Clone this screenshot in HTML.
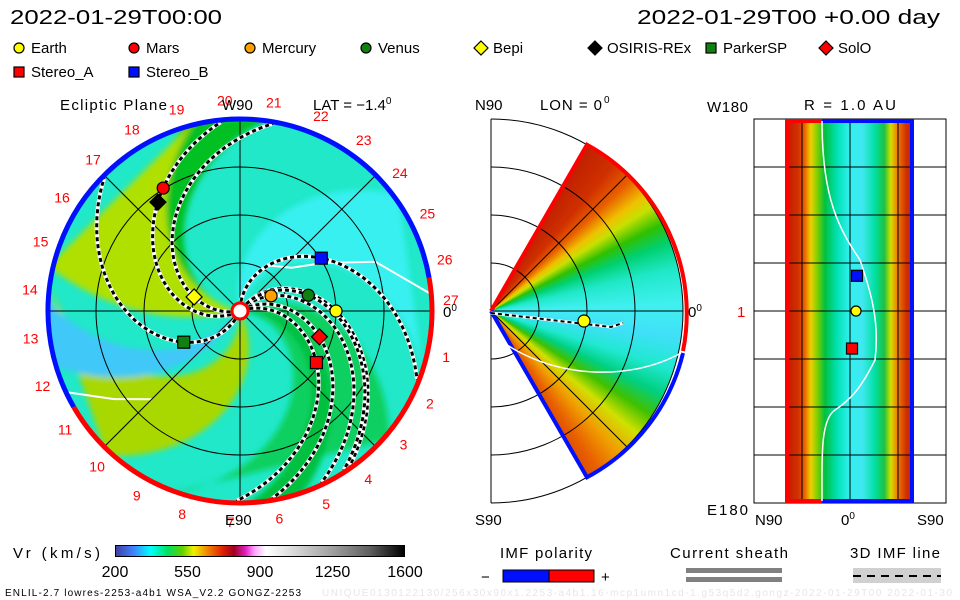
<!DOCTYPE html>
<html><head><meta charset="utf-8">
<style>
html,body{margin:0;padding:0;background:#fff;}
#root{position:relative;width:960px;height:600px;overflow:hidden;background:#fff;font-family:"Liberation Sans",sans-serif;}
.abs{position:absolute;}
#wedge{left:299px;top:119px;width:384px;height:384px;
 background:conic-gradient(from 0deg at 50% 50%,#fff 0deg,#fff 29deg,#c02000 30deg,#d03000 40deg,#e86000 47deg,#f0c000 53deg,#c8e000 57deg,#30c000 63deg,#00d070 69deg,#20e8c8 77deg,#40f0f0 88deg,#40e0f8 98deg,#20e8d0 108deg,#00d080 116deg,#40c000 123deg,#d0e000 130deg,#f0a000 138deg,#e86000 146deg,#e05000 150deg,#fff 151deg);
 clip-path:path('M192 192 L288 25.7 A192 192 0 0 1 288 358.3 Z');}
#strip{left:785px;top:119px;width:129px;height:384px;
 background:linear-gradient(to right,#c01800 0%,#d03000 10%,#e86000 15%,#f0d000 20%,#80d000 25%,#00c040 31%,#00e0b0 40%,#30f0f0 50%,#40e8f0 60%,#00e0a0 70%,#20c040 77%,#d0e000 82%,#f08000 87%,#d03000 94%,#c02000 100%);}
#cbar{left:115px;top:545px;width:290px;height:12px;border:1px solid #000;box-sizing:border-box;
 background:linear-gradient(to right,#4040a0 0%,#4080ff 6%,#00ffff 12%,#00e060 18%,#60d000 23%,#f0f000 27%,#f08000 32%,#e02000 37%,#a00020 41%,#e020c0 45%,#ffa0ff 48%,#ffffff 52%,#e0e0e0 60%,#a0a0a0 75%,#606060 88%,#000 100%);}
</style></head><body>
<div id="root">
<div id="wedge" class="abs"></div>
<div id="strip" class="abs"></div>
<div id="cbar" class="abs"></div>
<svg id="svg" class="abs" style="left:0;top:0" width="960" height="600" xmlns="http://www.w3.org/2000/svg" font-family="Liberation Sans, sans-serif">
<defs>
<clipPath id="disk"><circle cx="240" cy="311" r="192"/></clipPath>
<filter id="blur" x="-10%" y="-10%" width="120%" height="120%"><feGaussianBlur stdDeviation="3"/></filter>
</defs>
<g id="eclip">
 <g clip-path="url(#disk)"><circle cx="240" cy="311" r="192" fill="#20e8c8"/><g id="bands" filter="url(#blur)"></g><g id="sheath"></g></g>
 <g id="grid" stroke="#000" stroke-width="1" fill="none"></g>
 <g id="spirals"></g>
 <g id="border"></g>
 <g id="objs"></g>
 <g id="lonlabels" fill="#f00" font-size="14"></g>
</g>
<g id="mer" stroke="#000" fill="none"></g>
<g id="rmap"></g>
<g font-size="20" fill="#000">
 <text x="10" y="24" textLength="212" lengthAdjust="spacingAndGlyphs">2022-01-29T00:00</text>
 <text x="637" y="24" textLength="303" lengthAdjust="spacingAndGlyphs">2022-01-29T00 +0.00 day</text>
</g>
<g id="legend" font-size="15"></g>
<g font-size="15">
 <text x="60" y="110" textLength="107">Ecliptic Plane</text>
 <text x="222" y="110">W90</text>
 <text x="313" y="110">LAT = −1.4<tspan font-size="10" dy="-6">0</tspan></text>
 <text x="225" y="525">E90</text>
 <text x="443" y="317">0<tspan font-size="10" dy="-6">0</tspan></text>
 <text x="475" y="110">N90</text>
 <text x="540" y="110" textLength="62">LON = 0</text><text x="604" y="103" font-size="10">0</text>
 <text x="475" y="525">S90</text>
 <text x="688" y="317">0<tspan font-size="10" dy="-6">0</tspan></text>
 <text x="804" y="110" textLength="92">R = 1.0 AU</text>
 <text x="707" y="112" textLength="41">W180</text>
 <text x="707" y="515" textLength="41">E180</text>
 <text x="755" y="525">N90</text>
 <text x="841" y="525">0<tspan font-size="10" dy="-6">0</tspan></text>
 <text x="917" y="525">S90</text>
 <text x="737" y="317" fill="#f00">1</text>
 <text x="13" y="558" textLength="87">Vr (km/s)</text>
 <text x="500" y="558" textLength="92">IMF polarity</text>
 <text x="670" y="558" textLength="118">Current sheath</text>
 <text x="850" y="558" textLength="90">3D IMF line</text>
 <text x="481" y="582">−</text>
 <text x="601" y="582">+</text>
</g>
<g id="cticks" font-size="16" text-anchor="middle"></g>
<rect x="503" y="570" width="46" height="12" fill="#0010ff" stroke="#000"/>
<rect x="549" y="570" width="45" height="12" fill="#ff0000" stroke="#000"/>
<rect x="686" y="568" width="96" height="5" fill="#808080"/>
<rect x="686" y="577" width="96" height="5" fill="#808080"/>
<rect x="853" y="568" width="88" height="15" fill="#d0d0d0"/>
<line x1="853" y1="576" x2="941" y2="576" stroke="#000" stroke-width="2" stroke-dasharray="8,6"/>
<text x="5" y="596" font-size="10" textLength="296">ENLIL-2.7 lowres-2253-a4b1 WSA_V2.2 GONGZ-2253</text>
<text x="322" y="596" font-size="10" fill="#e6e6e6" textLength="630">UNIQUE0130122130/256x30x90x1.2253-a4b1.16-mcp1umn1cd-1.g53q5d2.gongz-2022-01-29T00    2022-01-30</text>
</svg>
</div>
<script>
// ---- data ----
const objNames = ["Earth","Mars","Mercury","Venus","Bepi","OSIRIS-REx","ParkerSP","SolO","Stereo_A","Stereo_B"];
const objR =     [1.0, 1.51, 0.36, 0.73, 0.50, 1.42, 0.67, 0.87, 0.96, 1.01];
const objLon =   [0, 122, 26, 13, 163, 127, 209, -18, -34, 33];
const objShape = ["circle","circle","circle","circle","diamond","diamond","square","diamond","square","square"];
const objColor = ["#ffff00","#ff0000","#ffa000","#108010","#ffff00","#000000","#108010","#ff0000","#ff0000","#0010ff"];
const spiralObjs = ["Earth","Mars","Mercury","Venus","Bepi","ParkerSP","SolO","Stereo_A","Stereo_B"];
const colorTicks = [200,550,900,1250,1600];
const bandPhi =   [90, 10, 175, 180, 285, 235, 5];
const bandK =     [40, 42, 40, 22, 42, 24, 42];
const bandWidth = [40, 50, 18, 45, 40, 14, 12];
const bandColor = ["#38f0f0","#10d060","#00c020","#b0e000","#a8d800","#40c8f8","#00c040"];
const rmapLat =   [0, 0, 0];
const rmapLon =   [0, 15, -16];
const rmapNames = ["Earth","Stereo_B","Stereo_A"];

const NS="http://www.w3.org/2000/svg";
const CX=240, CY=311, PXAU=96, K=56;
function mk(tag,attrs,parent){const e=document.createElementNS(NS,tag);for(const k in attrs)e.setAttribute(k,attrs[k]);parent.appendChild(e);return e;}
function px(r,phi){const a=phi*Math.PI/180;return [CX+r*PXAU*Math.cos(a),CY-r*PXAU*Math.sin(a)];}

const bands=document.getElementById('bands');
for(let i=0;i<bandPhi.length;i++){
  const pts=[],back=[];
  for(let r=0;r<=2.1;r+=0.05){
    const w=bandWidth[i]*(0.6+0.4*r);
    const c=bandPhi[i]-bandK[i]*r;
    pts.push(px(r,c-w/2).join(','));back.unshift(px(r,c+w/2).join(','));
  }
  const p=mk('polygon',{points:pts.concat(back).join(' '),fill:bandColor[i]},bands);
  
  
}
const sheath=document.getElementById('sheath');
[[[0.55,60],[0.7,40],[1.0,30],[1.5,20],[2.0,5]],[[1.3,225],[1.6,215],[2.0,205]]].forEach(pts=>{
  let d='';pts.forEach(([r,a])=>{const p=px(r,a);d+=(d?'L':'M')+p[0].toFixed(1)+' '+p[1].toFixed(1);});
  const e=mk('path',{d:d,stroke:'#fff','stroke-width':2,fill:'none','stroke-linejoin':'round'},sheath);
  
  
});
const grid=document.getElementById('grid');
[0.5,1,1.5,2].forEach(r=>mk('circle',{cx:CX,cy:CY,r:r*PXAU},grid));
[0,45,90,135].forEach(a=>{const p1=px(2,a),p2=px(2,a+180);mk('line',{x1:p1[0],y1:p1[1],x2:p2[0],y2:p2[1]},grid);});
const sp=document.getElementById('spirals');
spiralObjs.forEach(n=>{
  const i=objNames.indexOf(n);
  let d='';
  for(let r=0.1;r<=2.0;r+=0.02){const p=px(r,objLon[i]+K*(objR[i]-r));d+=(d?'L':'M')+p[0].toFixed(1)+' '+p[1].toFixed(1);}
  const w=mk('path',{d:d,stroke:'#fff','stroke-width':4,fill:'none'},sp);
  
  
  const b=mk('path',{d:d,stroke:'#000','stroke-width':3,fill:'none','stroke-dasharray':'4,3'},sp);
  
  
});
const border=document.getElementById('border');
function arc(a1,a2,col,name){const p1=px(2,a1),p2=px(2,a2);const large=(a2-a1)>180?1:0;
  const e=mk('path',{d:`M${p1[0]} ${p1[1]} A192 192 0 ${large} 0 ${p2[0]} ${p2[1]}`,stroke:col,'stroke-width':5,fill:'none'},border);
  
  }
arc(10,210,'#0010ff','polarity-border-negative');
arc(210,370,'#ff0000','polarity-border-positive');
const sun=mk('circle',{cx:CX,cy:CY,r:8,fill:'#fff',stroke:'#f00','stroke-width':3},border);


function marker(shape,x,y,col,parent,s){
  let e;
  if(shape==='circle')e=mk('circle',{cx:x,cy:y,r:s,fill:col,stroke:'#000','stroke-width':1.2},parent);
  else if(shape==='square')e=mk('rect',{x:x-s,y:y-s,width:2*s,height:2*s,fill:col,stroke:'#000','stroke-width':1.2},parent);
  else e=mk('polygon',{points:`${x},${y-s-2} ${x+s+2},${y} ${x},${y+s+2} ${x-s-2},${y}`,fill:col,stroke:'#000','stroke-width':1.2},parent);
  return e;}
const objs=document.getElementById('objs');
for(let i=0;i<objNames.length;i++){const p=px(objR[i],objLon[i]);
  const e=marker(objShape[i],p[0],p[1],objColor[i],objs,6);
  
  }
const ll=document.getElementById('lonlabels');
for(let n=1;n<=27;n++){const a=n===27?3:-12.6-(n-1)*13.33;const p=px(2.2,a);
  const t=mk('text',{x:p[0].toFixed(1),y:(p[1]+5).toFixed(1),'text-anchor':'middle'},ll);t.textContent=n;
  
  }
const mer=document.getElementById('mer');const MX=491,MY=311;
mk('line',{x1:MX,y1:119,x2:MX,y2:503,'stroke-width':1},mer);
[48,96,144,192].forEach(r=>mk('path',{d:`M${MX} ${MY-r} A${r} ${r} 0 0 1 ${MX} ${MY+r}`,'stroke-width':1},mer));
[45,0,-45].forEach(a=>{const t=a*Math.PI/180;mk('line',{x1:MX,y1:MY,x2:MX+192*Math.cos(t),y2:MY-192*Math.sin(t),'stroke-width':1},mer);});
function mp(a,r){const t=a*Math.PI/180;return [MX+r*Math.cos(t),MY-r*Math.sin(t)];}
{const a=mp(60,192),b=mp(0,192),c=mp(-60,192);
 const e1=mk('path',{d:`M${MX} ${MY} L${a[0]} ${a[1]} A192 192 0 0 1 ${b[0]} ${b[1]+40}`,stroke:'#ff0000','stroke-width':4},mer);
 
 const e2=mk('path',{d:`M${MX} ${MY} L${c[0]} ${c[1]} A192 192 0 0 0 ${b[0]} ${b[1]+42}`,stroke:'#0010ff','stroke-width':4},mer);
 
 const ws=mk('path',{d:`M${MX+2} ${MY+24} C${MX+60} ${MY+70} ${MX+140} ${MY+70} ${MX+190} ${MY+42}`,stroke:'#fff','stroke-width':1.5},mer);
 
 const wl=mk('path',{d:`M${MX} ${MY+2} L${MX+120} ${MY+16} L${MX+132} ${MY+12}`,stroke:'#fff','stroke-width':3},mer);
 
 const wd=mk('path',{d:`M${MX} ${MY+2} L${MX+120} ${MY+16} L${MX+132} ${MY+12}`,stroke:'#000','stroke-width':2,'stroke-dasharray':'4,3'},mer);
 
 const e=mk('circle',{cx:MX+93,cy:MY+10,r:6,fill:'#ffff00',stroke:'#000','stroke-width':1.2},mer);
 }
const rm=document.getElementById('rmap');
mk('rect',{x:754,y:119,width:192,height:384,fill:'none',stroke:'#000'},rm);
for(let y=167;y<503;y+=48)mk('line',{x1:754,y1:y,x2:946,y2:y,stroke:'#000'},rm);
[802,850,898].forEach(x=>mk('line',{x1:x,y1:119,x2:x,y2:503,stroke:'#000'},rm));
mk('line',{x1:787,y1:121,x2:787,y2:501,stroke:'#f00','stroke-width':4},rm);
mk('line',{x1:912,y1:121,x2:912,y2:501,stroke:'#0010ff','stroke-width':4},rm);
mk('line',{x1:785,y1:121,x2:822,y2:121,stroke:'#f00','stroke-width':4},rm);
mk('line',{x1:822,y1:121,x2:914,y2:121,stroke:'#0010ff','stroke-width':4},rm);
mk('line',{x1:785,y1:501,x2:822,y2:501,stroke:'#f00','stroke-width':4},rm);
mk('line',{x1:822,y1:501,x2:914,y2:501,stroke:'#0010ff','stroke-width':4},rm);
mk('path',{d:'M822 121 C822 200 840 230 860 260 C870 290 880 320 875 360 C860 390 850 400 835 410 C820 420 822 460 822 501',stroke:'#fff','stroke-width':1.5,fill:'none'},rm);
const rmShape=["circle","square","square"],rmCol=["#ffff00","#0010ff","#ff0000"];
for(let i=0;i<rmapNames.length;i++){
  const x=850+rmapLat[i]*(64/90)+ (i===0?6:i===1?7:2);
  const y=311-rmapLon[i]*(192/180)*2.2;
  const e=marker(rmShape[i],x,y,rmCol[i],rm,i===0?5:5.5);
  
  }
const ct=document.getElementById('cticks');
colorTicks.forEach(v=>{const x=115+(v-200)/(1600-200)*290;const t=mk('text',{x:x.toFixed(1),y:577},ct);t.textContent=v;
  
  });
const lg=document.getElementById('legend');
const legX=[19,134,250,366,481,595,711,826,19,134];
const legY=[48,48,48,48,48,48,48,48,72,72];
for(let i=0;i<objNames.length;i++){
  const m=marker(objShape[i],legX[i],legY[i],objColor[i],lg,5);
  
  
  const t=mk('text',{x:legX[i]+12,y:legY[i]+5},lg);t.textContent=objNames[i];
  
  
}
</script>
</body></html>
